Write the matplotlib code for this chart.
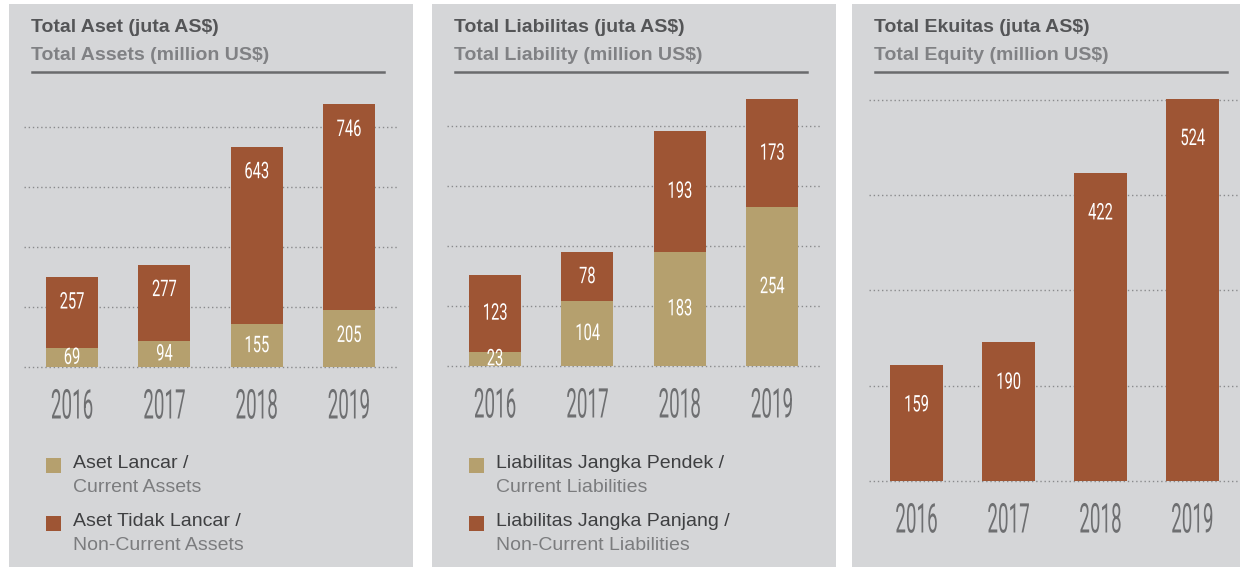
import matplotlib.pyplot as plt
import matplotlib.patheffects as pe
from matplotlib.patches import Rectangle
from matplotlib.transforms import Affine2D
import numpy as np

W, H = 1248, 567

years = ['2016', '2017', '2018', '2019']
current_assets = [69, 94, 155, 205]
noncurrent_assets = [257, 277, 643, 746]
current_liab = [23, 104, 183, 254]
noncurrent_liab = [123, 78, 193, 173]
equity = [159, 190, 422, 524]

BG = '#d5d6d8'
TAN = '#b5a06e'
BROWN = '#9e5534'
GRID = '#8a8b8d'


class Squeeze(pe.AbstractPathEffect):
    # narrow the glyphs horizontally, like a condensed face
    def __init__(self, sx):
        super().__init__()
        self.sx = sx

    def draw_path(self, renderer, gc, tpath, affine, rgbFace=None):
        ext = tpath.get_extents()
        cx = (ext.x0 + ext.x1) / 2
        sq = Affine2D().translate(-cx, 0).scale(self.sx, 1).translate(cx, 0)
        renderer.draw_path(gc, tpath, sq + affine, rgbFace)


def frac(left, top, right, bottom):
    return [left / W, 1 - bottom / H, (right - left) / W, (bottom - top) / H]


def fy(y):
    return 1 - y / H


fig = plt.figure(figsize=(W / 100, H / 100), dpi=100)
fig.patch.set_facecolor('white')


def panel(x0, x1, title, subtitle):
    fig.add_artist(Rectangle((x0 / W, 0), (x1 - x0) / W, fy(4), transform=fig.transFigure,
                             facecolor=BG, edgecolor='none', zorder=-5))
    tx = x0 + 22
    fig.text(tx / W, fy(27), title, fontsize=14, fontweight='bold', color='#545557',
             family='Liberation Sans', va='center')
    fig.text(tx / W, fy(55), subtitle, fontsize=14, fontweight='bold', color='#808184',
             family='Liberation Sans', va='center')
    fig.add_artist(plt.Line2D([(tx + 1) / W, (tx + 353) / W], [fy(72), fy(72)],
                              transform=fig.transFigure, color='#6a6b6d', lw=1.8))


def chart(left, right, top, base_y, ymax, step, series, colors, bar_w, xlim, off):
    ppu = (base_y - top) / ymax
    ax = fig.add_axes(frac(left, top, right, base_y + 3))
    ax.set_facecolor('none')
    ax.set_xlim(*xlim)
    ax.set_ylim(-3 / ppu, ymax)
    ax.set_yticks(np.arange(5) * step)
    ax.yaxis.grid(True, color=GRID, linestyle=(0, (1, 2)), linewidth=1)
    ax.set_axisbelow(True)
    ax.tick_params(left=False, labelleft=False, bottom=False, labelbottom=False)
    for s in ax.spines.values():
        s.set_visible(False)

    x = np.arange(len(years))
    base = np.zeros(len(years))
    for vals, c in zip(series, colors):
        vals = np.array(vals)
        ax.bar(x, vals, bar_w, bottom=base, color=c, zorder=2)
        for i, v in enumerate(vals):
            if off is None or v * ppu < 2 * off:
                t = ax.text(i, base[i] + v / 2, str(v), ha='center', va='center')
            else:
                t = ax.annotate(str(v), (i, base[i] + v), xytext=(0, -off),
                                textcoords='offset pixels', ha='center', va='center')
            t.set(color='white', fontsize=16.5, family='Roboto', zorder=3)
            t.set_path_effects([Squeeze(0.64)])
        base += vals

    for i, yr in enumerate(years):
        t = ax.annotate(yr, (i, 0), xytext=(0, -40), textcoords='offset pixels',
                        ha='center', va='center', fontsize=29.5, family='Roboto',
                        color='#6e6f71', annotation_clip=False)
        t.set_path_effects([Squeeze(0.46)])
    return ax


def legend(x, items):
    for k, (l1, l2, c) in enumerate(items):
        y = 458 + k * 58
        fig.add_artist(Rectangle((x / W, fy(y + 15)), 15 / W, 15 / H, transform=fig.transFigure,
                                 facecolor=c, edgecolor='none'))
        fig.text((x + 27) / W, fy(y + 5), l1, fontsize=14, color='#3e3f41',
                 family='Liberation Sans', va='center')
        fig.text((x + 27) / W, fy(y + 29), l2, fontsize=14, color='#7b7c7e',
                 family='Liberation Sans', va='center')


# panel 1: total assets
panel(9, 413, 'Total Aset (juta AS$)', 'Total Assets (million US$)')
chart(24, 398, 97, 367, 978, 217.4, [current_assets, noncurrent_assets], [TAN, BROWN],
      0.563, (-0.52, 3.53), 25)
legend(46, [('Aset Lancar /', 'Current Assets', TAN),
            ('Aset Tidak Lancar /', 'Non-Current Assets', BROWN)])

# panel 2: total liabilities
panel(432, 836, 'Total Liabilitas (juta AS$)', 'Total Liability (million US$)')
chart(447, 822, 96, 366, 432, 96, [current_liab, noncurrent_liab], [TAN, BROWN],
      0.563, (-0.52, 3.54), None)
legend(469, [('Liabilitas Jangka Pendek /', 'Current Liabilities', TAN),
             ('Liabilitas Jangka Panjang /', 'Non-Current Liabilities', BROWN)])

# panel 3: total equity
panel(852, 1240, 'Total Ekuitas (juta AS$)', 'Total Equity (million US$)')
chart(869, 1240, 95, 481, 528.8, 130.5, [equity], [BROWN],
      0.576, (-0.516, 3.516), 40)

fig.savefig('out.png', dpi=100, facecolor='white')
